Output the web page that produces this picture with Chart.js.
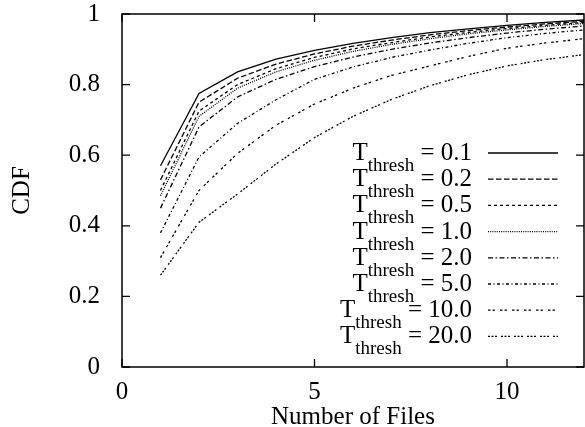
<!DOCTYPE html>
<html>
<head>
<meta charset="utf-8">
<script src="https://cdn.jsdelivr.net/npm/chart.js@4.4.1/dist/chart.umd.min.js"></script>
<style>
  html, body { margin: 0; padding: 0; background: #fff; }
  #wrap { width: 585px; height: 427px; }
</style>
</head>
<body>
<div id="wrap"><canvas id="cdf" width="585" height="427"></canvas></div>
<script>
// values, one array per threshold
const numFiles = [1, 2, 3, 4, 5, 6, 7, 8, 9, 10, 11, 12];
const thresholds = ['0.1', '0.2', '0.5', '1.0', '2.0', '5.0', '10.0', '20.0'];
const cdfT01 = [0.57, 0.775, 0.836, 0.872, 0.897, 0.917, 0.933, 0.947, 0.958, 0.968, 0.976, 0.983];
const cdfT02 = [0.53, 0.75, 0.818, 0.858, 0.887, 0.909, 0.926, 0.941, 0.953, 0.963, 0.972, 0.979];
const cdfT05 = [0.50, 0.725, 0.80, 0.845, 0.877, 0.901, 0.919, 0.935, 0.948, 0.959, 0.968, 0.976];
const cdfT1 = [0.485, 0.71, 0.79, 0.836, 0.869, 0.894, 0.914, 0.93, 0.944, 0.955, 0.965, 0.973];
const cdfT2 = [0.45, 0.68, 0.765, 0.815, 0.851, 0.878, 0.9, 0.918, 0.933, 0.946, 0.957, 0.966];
const cdfT5 = [0.38, 0.595, 0.69, 0.757, 0.815, 0.85, 0.877, 0.898, 0.917, 0.933, 0.945, 0.955];
const cdfT10 = [0.31, 0.50, 0.605, 0.685, 0.745, 0.79, 0.826, 0.853, 0.88, 0.903, 0.918, 0.93];
const cdfT20 = [0.26, 0.41, 0.49, 0.575, 0.65, 0.71, 0.758, 0.797, 0.828, 0.853, 0.871, 0.885];
const xTicks = [0, 5, 10];
const yTicks = [0, 0.2, 0.4, 0.6, 0.8, 1];

const series = [cdfT01, cdfT02, cdfT05, cdfT1, cdfT2, cdfT5, cdfT10, cdfT20];
const DASHES = [
  [],
  [5.5, 2.5],
  [3, 3],
  [1, 1.2],
  [5, 2.5, 1.5, 2.5],
  [3, 2.5, 1, 2.5],
  [2.5, 2, 2.5, 5],
  [2, 1.5, 2, 1.5, 2, 4],
];
const SERIF = '"Liberation Serif", "Times New Roman", serif';

const datasets = series.map((vals, i) => ({
  label: 'T_thresh = ' + thresholds[i],
  data: numFiles.map((n, j) => ({ x: n, y: vals[j] })),
  borderColor: '#000',
  borderWidth: 1.3,
  borderDash: DASHES[i],
  pointRadius: 0,
  tension: 0,
  fill: false,
}));

// ticks pointing into the plot on all four sides, plus the frame
const frame = {
  id: 'frame',
  afterDatasetsDraw(chart) {
    const { ctx, chartArea: a, scales: { x, y } } = chart;
    ctx.save();
    ctx.strokeStyle = '#000';
    ctx.lineWidth = 1.5;
    ctx.strokeRect(a.left, a.top, a.right - a.left, a.bottom - a.top);
    ctx.lineWidth = 1.3;
    ctx.beginPath();
    xTicks.forEach((v) => {
      const px = x.getPixelForValue(v);
      ctx.moveTo(px, a.bottom); ctx.lineTo(px, a.bottom - 8);
      ctx.moveTo(px, a.top); ctx.lineTo(px, a.top + 8);
    });
    yTicks.forEach((v) => {
      const py = y.getPixelForValue(v);
      ctx.moveTo(a.left, py); ctx.lineTo(a.left + 8, py);
      ctx.moveTo(a.right, py); ctx.lineTo(a.right - 8, py);
    });
    ctx.stroke();
    ctx.restore();
  },
};

// legend with a real subscript, drawn inside the plot
const subLegend = {
  id: 'subLegend',
  afterDatasetsDraw(chart) {
    const { ctx, chartArea: a } = chart;
    const right = a.right - 112;
    ctx.save();
    ctx.fillStyle = '#000';
    ctx.strokeStyle = '#000';
    ctx.textBaseline = 'alphabetic';
    chart.data.datasets.forEach((ds, i) => {
      const lineY = a.top + 139 + i * 26.2;
      const base = lineY + 7;
      const tail = ' = ' + thresholds[i];
      ctx.font = '25px ' + SERIF;
      const wTail = ctx.measureText(tail).width;
      const wT = ctx.measureText('T').width;
      ctx.font = '19px ' + SERIF;
      const wSub = ctx.measureText('thresh').width;
      let xs = right - wTail - wSub - wT;
      ctx.font = '25px ' + SERIF;
      ctx.fillText('T', xs, base);
      ctx.font = '19px ' + SERIF;
      ctx.fillText('thresh', xs + wT, base + 11);
      ctx.font = '25px ' + SERIF;
      ctx.fillText(tail, xs + wT + wSub, base);

      ctx.lineWidth = ds.borderWidth;
      ctx.setLineDash(ds.borderDash);
      ctx.beginPath();
      ctx.moveTo(a.right - 96, lineY);
      ctx.lineTo(a.right - 26, lineY);
      ctx.stroke();
      ctx.setLineDash([]);
    });
    ctx.restore();
  },
};

new Chart(document.getElementById('cdf'), {
  type: 'line',
  data: { datasets },
  options: {
    responsive: false,
    animation: false,
    layout: { padding: { left: 0, right: 1, top: 0, bottom: 0 } },
    plugins: { legend: { display: false }, tooltip: { enabled: false } },
    scales: {
      x: {
        type: 'linear',
        min: 0,
        max: 12,
        afterBuildTicks: (s) => { s.ticks = xTicks.map((v) => ({ value: v })); },
        afterFit: (s) => { s.height = 60; },
        ticks: { color: '#000', font: { family: SERIF, size: 25, lineHeight: 1 }, padding: 13, maxRotation: 0, autoSkip: false, callback: (v) => String(v) },
        grid: { display: false, drawTicks: false },
        border: { display: false },
        title: { display: true, text: 'Number of Files', color: '#000', font: { family: SERIF, size: 25, lineHeight: 0.8 }, padding: 0 },
      },
      y: {
        min: 0,
        max: 1,
        afterBuildTicks: (s) => { s.ticks = yTicks.map((v) => ({ value: v })); },
        afterFit: (s) => { s.width = 122; s.paddingTop = 14; },
        ticks: { color: '#000', font: { family: SERIF, size: 25, lineHeight: 1 }, padding: 22, autoSkip: false, callback: (v) => String(v) },
        grid: { display: false, drawTicks: false },
        border: { display: false },
        title: { display: true, text: 'CDF', color: '#000', font: { family: SERIF, size: 25 }, padding: { top: 7, bottom: 0 } },
      },
    },
  },
  plugins: [frame, subLegend],
});
</script>
</body>
</html>
